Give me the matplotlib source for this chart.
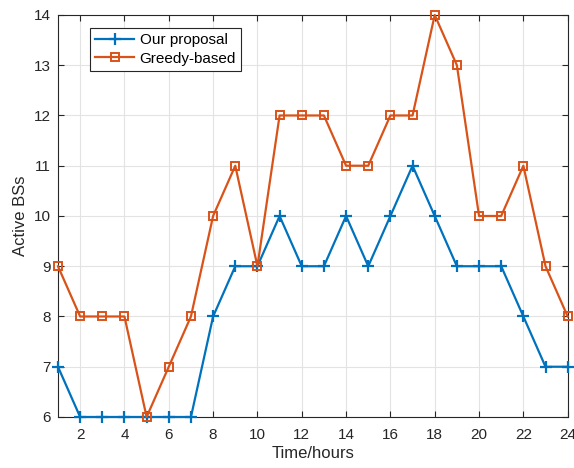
import matplotlib
matplotlib.use("Agg")
import matplotlib.pyplot as plt
import numpy as np

plt.rcParams['font.family'] = ['Liberation Sans', 'DejaVu Sans']

hours = np.arange(1, 25)
ours = [7, 6, 6, 6, 6, 6, 6, 8, 9, 9, 10, 9, 9, 10, 9, 10, 11, 10, 9, 9, 9, 8, 7, 7]
greedy = [9, 8, 8, 8, 6, 7, 8, 10, 11, 9, 12, 12, 12, 11, 11, 12, 12, 14, 13, 10, 10, 11, 9, 8]

fig = plt.figure(figsize=(5.74, 4.68), dpi=100)
ax = fig.add_axes([0.101, 0.109, 0.888, 0.859])

ax.plot(hours, ours, color='#0072BD', lw=1.6, marker='+', ms=8, mew=1.6,
        label='Our proposal', clip_on=False, zorder=3)
ax.plot(hours, greedy, color='#D95319', lw=1.6, marker='s', ms=6, mew=1.4,
        mfc='none', label='Greedy-based', clip_on=False, zorder=3)

ax.set_xlim(1, 24)
ax.set_ylim(6, 14)
ax.set_xticks(np.arange(2, 25, 2))
ax.set_yticks(np.arange(6, 15, 1))
ax.grid(True, color='#e3e3e3', lw=0.8)
ax.set_axisbelow(True)
ax.tick_params(direction='in', top=True, right=True, labelsize=11, colors='#262626', length=4)
ax.tick_params(axis='x', pad=8)
ax.tick_params(axis='y', pad=5)
for s in ax.spines.values():
    s.set_color('#262626')
    s.set_linewidth(0.8)

ax.set_xlabel('Time/hours', fontsize=12, color='#262626', labelpad=3)
ax.set_ylabel('Active BSs', fontsize=12, color='#262626')

leg = ax.legend(loc='upper left', bbox_to_anchor=(0.063, 0.968), borderaxespad=0,
                fontsize=11, fancybox=False, framealpha=1, edgecolor='#262626',
                handlelength=2.5, borderpad=0.35, labelspacing=0.3, handletextpad=0.4)
leg.get_frame().set_linewidth(0.8)

fig.savefig('out.png', dpi=100)
